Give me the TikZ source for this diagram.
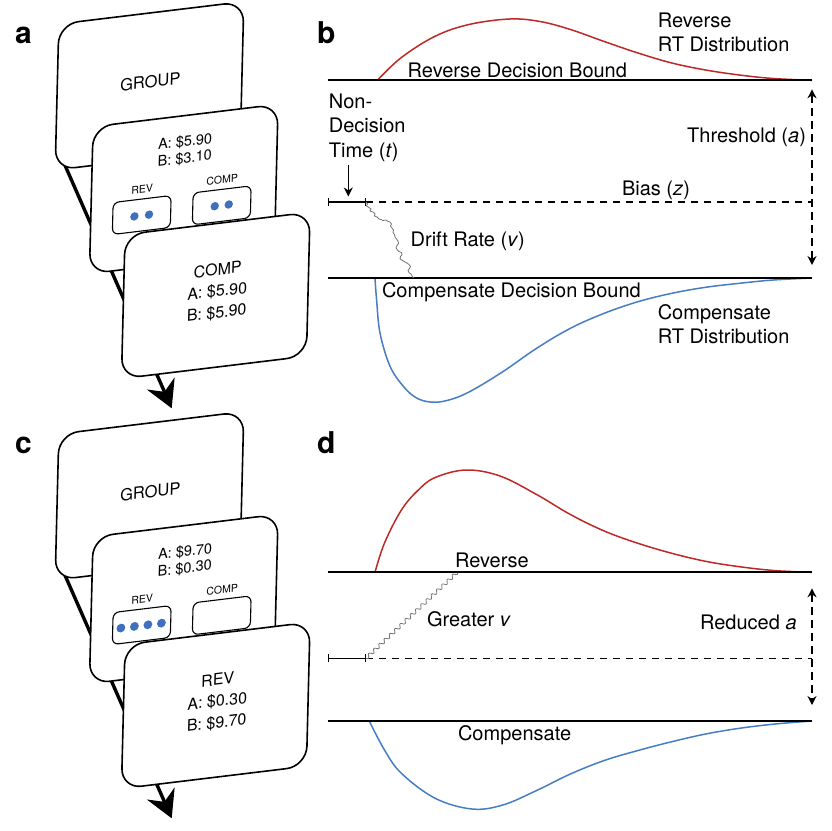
\documentclass[tikz,border=0pt]{standalone}
\usepackage{fontspec}
\setmainfont{TeX Gyre Heros}
\usetikzlibrary{arrows.meta}
\definecolor{rtred}{RGB}{190,40,38}
\definecolor{rtblue}{RGB}{70,125,195}
\definecolor{dotblue}{RGB}{62,112,190}
\tikzset{
  cardbox/.style={draw=black,line width=1.6pt,fill=white,rounded corners=20pt},
  minibox/.style={draw=black,line width=1.1pt,fill=white,rounded corners=6pt},
  bluedot/.style={fill=dotblue,draw=none},
  trail/.style={line width=3.4pt,-{Stealth[length=27pt,width=30pt,inset=9pt]}},
  cardtext/.style={cm={1,0.121,0.025,1,(0,0)},align=center,inner sep=0pt},
  cardslant/.style={cm={1,0.121,0.025,1,(0,0)}},
  bound/.style={line width=1.7pt},
  ndbar/.style={line width=1.4pt,{Bar[width=8pt]}-{Bar[width=8pt]}},
  biasline/.style={line width=1.3pt,dash pattern=on 7pt off 6pt},
  thresharrow/.style={line width=1.5pt,dash pattern=on 8pt off 5pt,{Stealth[length=9pt,width=9pt]}-{Stealth[length=9pt,width=9pt]}},
  ndarrow/.style={line width=1.4pt,-{Stealth[length=9pt,width=9pt]}},
  redcurve/.style={draw=rtred,line width=1.5pt},
  bluecurve/.style={draw=rtblue,line width=1.5pt},
  drift/.style={draw=black!55,line width=0.8pt,line join=round},
  lbl/.style={font=\fontsize{20}{24.4}\selectfont,anchor=base west,inner sep=0pt},
  panel/.style={font=\fontsize{30}{30}\selectfont\bfseries,anchor=base west,inner sep=0pt},
}
\newcommand{\cardstack}[5]{%
\begin{scope}[shift={(0,#1)}]
  \coordinate (tstart#2) at (64,163);
  \coordinate (ttip#2) at (171.7,408.3);
  \draw[trail] (tstart#2) -- (ttip#2);
  \begin{scope}[shift={(149.5,85.8)},cardslant]
    \draw[cardbox] (-92.5,-73) rectangle (92.5,73);
  \end{scope}
  \begin{scope}[shift={(149.5,85.8)}]
    \node[cardtext,font=\fontsize{16.5}{18}\selectfont] (group#2) at (0.8,-4) {GROUP};
  \end{scope}
  \begin{scope}[shift={(183.75,189)},cardslant]
    \draw[cardbox] (-92.5,-73.5) rectangle (92.5,73.5);
    \draw[minibox] (-70.5,5) rectangle (-12.5,37);
    \draw[minibox] (9.5,5) rectangle (67.5,37);
    #4
  \end{scope}
  \begin{scope}[shift={(183.75,189)}]
    \node[cardtext,font=\fontsize{14.5}{16.7}\selectfont] (offer#2) at (1.2,-38.8) {#3};
    \node[cardtext,font=\fontsize{10.5}{12}\selectfont] (revlab#2) at (-41.5,0.5) {REV};
    \node[cardtext,font=\fontsize{10.5}{12}\selectfont] (complab#2) at (38.5,-9.2) {COMP};
  \end{scope}
  \begin{scope}[shift={(215.75,295.4)},cardslant]
    \draw[cardbox] (-92.5,-72) rectangle (92.5,72);
  \end{scope}
  \begin{scope}[shift={(215.75,295.4)}]
    \node[cardtext,font=\fontsize{16}{21.5}\selectfont] (choice#2) at (1.5,-3.7) {#5};
  \end{scope}
\end{scope}}
\begin{document}
\begin{tikzpicture}[x=1pt,y=-1pt]
\useasboundingbox (0,0) rectangle (831,831);

% ---------- panel labels
\node[panel] (pa) at (15,43.3) {a};
\node[panel] (pb) at (317,43.3) {b};
\node[panel] (pc) at (15,453.3) {c};
\node[panel] (pd) at (317,453.3) {d};

% ---------- panel a and c card stacks
\cardstack{0}{a}{A: \$5.90\\B: \$3.10}{%
  \fill[bluedot] (-48.8,21.5) circle (4.2);
  \fill[bluedot] (-34.2,21.5) circle (4.2);
  \fill[bluedot] (31.5,21) circle (4.2);
  \fill[bluedot] (45.5,21) circle (4.2);}{COMP\\A: \$5.90\\B: \$5.90}
\cardstack{410}{c}{A: \$9.70\\B: \$0.30}{%
  \fill[bluedot] (-62.3,21.5) circle (4.4);
  \fill[bluedot] (-48.8,21.5) circle (4.4);
  \fill[bluedot] (-35.3,21.5) circle (4.4);
  \fill[bluedot] (-21.8,21.5) circle (4.4);}{REV\\A: \$0.30\\B: \$9.70}

% ---------- panel b
\coordinate (bTL) at (327.7,80.3);
\coordinate (bTR) at (812,80.3);
\coordinate (bBL) at (327.7,278);
\coordinate (bBR) at (812,278);
\coordinate (bND0) at (327.7,202);
\coordinate (bND1) at (365.9,202);
\coordinate (bZR) at (812,202);
\coordinate (bAT) at (812,89.3);
\coordinate (bAB) at (812,265);

\draw[redcurve] plot[smooth,tension=0.6] coordinates {(377.4,80.3) (401.4,57.5) (435.2,36.2) (469,24.5) (509.6,19) (540,21.5) (570.4,29.5) (604.2,41.5) (638,53) (671.8,63) (705.6,70) (739.4,75) (773.2,78.5) (812,80.3)};
\draw[bluecurve] plot[smooth,tension=0.6] coordinates {(375,278) (376.6,300) (380,333) (389.5,365) (401.4,384) (414.9,397) (430,402) (447,400.5) (469,392) (502.8,371.7) (536.6,348.3) (570.4,328.3) (604.2,313.3) (638,301.7) (671.8,293.3) (705.6,287.3) (739.4,283.3) (773.2,280) (812,278)};
\draw[bound] (bTL) -- (bTR);
\draw[bound] (bBL) -- (bBR);
\draw[biasline] (bND1) -- (bZR);
\draw[ndbar] (bND0) -- (bND1);
\draw[drift] plot coordinates {(365.9,202) (367.5,204) (366.5,206) (369,207.5) (371,209) (370,211) (373,212) (375,213.5) (374.5,216) (377,217) (379,219) (381,219.5) (383,220.5) (386,220) (388,221.5) (390,222) (391.5,224) (390.5,226) (392,228) (393.5,230) (393,232.5) (394.5,234.5) (395,237) (396.5,239) (398,241) (398.5,243.5) (397,245.5) (396,248) (397.5,250) (399,251.5) (401.5,252.5) (402,254.5) (400.5,256.5) (400,259) (402.5,260.5) (405,262) (407,263) (409,264.5) (410.5,266.5) (409.5,268.5) (408,270.5) (409,272.5) (411,274) (412,276) (413.5,278)};
\draw[thresharrow] (bAT) -- (bAB);

\node[lbl] (revbound) at (407.5,77.5) {Reverse Decision Bound};
\node[lbl] (revdist) at (657.6,27.3) {\begin{tabular}[t]{@{}l@{}}Reverse\\RT Distribution\end{tabular}};
\node[lbl] (ndt) at (328.7,108.3) {\begin{tabular}[t]{@{}l@{}}Non-\\Decision\\Time (\textit{t})\end{tabular}};
\node[lbl] (thr) at (687,142.3) {Threshold (\textit{a})};
\node[lbl] (bias) at (621.8,195) {Bias (\textit{z})};
\node[lbl] (drate) at (410.5,246.7) {Drift Rate (\textit{v})};
\node[lbl] (compbound) at (381.8,297.7) {Compensate Decision Bound};
\node[lbl] (compdist) at (657.6,319) {\begin{tabular}[t]{@{}l@{}}Compensate\\RT Distribution\end{tabular}};
\coordinate (ndA) at (348.3,165);
\coordinate (ndB) at (348.3,196.5);
\draw[ndarrow] (ndA) -- (ndB);

% ---------- panel d
\coordinate (dTL) at (327.7,572.3);
\coordinate (dTR) at (812,572.3);
\coordinate (dBL) at (327.7,721);
\coordinate (dBR) at (812,721);
\coordinate (dND0) at (327.7,658.3);
\coordinate (dND1) at (365.9,658.3);
\coordinate (dZR) at (812,658.3);
\coordinate (dAT) at (812,588.3);
\coordinate (dAB) at (812,705);

\draw[redcurve] plot[smooth,tension=0.6] coordinates {(375,572.3) (384.5,543) (401.4,510) (418.3,490) (435.2,477.5) (466,470) (500,476) (536.6,494.5) (570.4,514.5) (604.2,531) (638,543.3) (671.8,553.3) (705.6,561.3) (739.4,566.7) (775,570.6) (812,572.3)};
\draw[bluecurve] plot[smooth,tension=0.6] coordinates {(369.3,721) (384.5,750) (401.4,773.3) (435.2,798.3) (472,809) (502.8,805) (536.6,790.5) (570.4,774) (604.2,760.5) (638,750.5) (671.8,741.7) (705.6,734) (739.4,728.3) (775,724) (812,721)};
\draw[bound] (dTL) -- (dTR);
\draw[bound] (dBL) -- (dBR);
\draw[biasline] (dND1) -- (dZR);
\draw[ndbar] (dND0) -- (dND1);
\draw[drift] plot[domain=0:125.4,samples=220,variable=\s,smooth]
  ({365.9+0.728*\s+1.17*sin(50*\s)},{658.3-0.686*\s+1.24*sin(50*\s)});
\draw[thresharrow] (dAT) -- (dAB);

\node[lbl] (revd) at (454.8,567.7) {Reverse};
\node[lbl] (greater) at (426.8,626) {Greater \textit{v}};
\node[lbl] (reduced) at (699.9,629.3) {Reduced \textit{a}};
\node[lbl] (compd) at (457.8,740) {Compensate};
\end{tikzpicture}
\end{document}
